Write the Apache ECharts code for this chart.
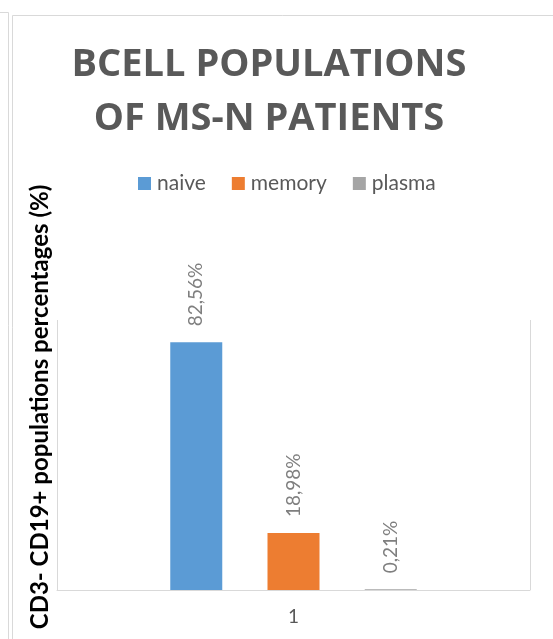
<!DOCTYPE html>
<html>
<head>
<meta charset="utf-8">
<script src="https://cdn.jsdelivr.net/npm/echarts@6/dist/echarts.min.js"></script>
<style>
html,body{margin:0;padding:0;background:#fff;}
#chart{width:553px;height:639px;}
</style>
</head>
<body>
<div id="chart"></div>
<script>
var categories = ['1'];
var seriesNames = ['naive', 'memory', 'plasma'];
var naiveValues = [82.56];
var memoryValues = [18.98];
var plasmaValues = [0.21];
var seriesColors = ['#5B9BD5', '#ED7D31', '#A5A5A5'];
var titleText = 'BCELL POPULATIONS\nOF MS-N PATIENTS';
var yTitle = 'CD3- CD19+ populations percentages (%)';

var chart = echarts.init(document.getElementById('chart'), null, {renderer: 'canvas'});

function fmt(p) {
  return p.value.toFixed(2).replace('.', ',') + '%';
}

var labelStyle = {
  show: true,
  position: 'top',
  rotate: 90,
  align: 'left',
  verticalAlign: 'middle',
  distance: 16,
  formatter: fmt,
  color: '#7F7F7F',
  fontFamily: 'Lato',
  fontSize: 19
};

var valueSets = [naiveValues, memoryValues, plasmaValues];
var series = seriesNames.map(function (name, i) {
  return {
    name: name,
    type: 'bar',
    data: valueSets[i],
    barWidth: 52,
    barGap: '87%',
    itemStyle: {color: seriesColors[i]},
    label: labelStyle
  };
});

chart.setOption({
  backgroundColor: '#ffffff',
  animation: false,
  title: {
    text: titleText,
    left: 269,
    top: 38,
    padding: 0,
    textAlign: 'center',
    textStyle: {
      fontFamily: 'Open Sans',
      fontWeight: 'bold',
      fontSize: 38,
      lineHeight: 54,
      color: '#595959'
    }
  },
  legend: {
    data: seriesNames,
    left: 138,
    top: 173,
    padding: 0,
    icon: 'rect',
    itemWidth: 13,
    itemHeight: 13,
    itemGap: 26,
    textStyle: {
      fontFamily: 'Lato',
      fontSize: 21,
      color: '#595959',
      padding: [0, 0, 0, 1]
    }
  },
  grid: {
    left: 57,
    right: 23,
    top: 320,
    bottom: 49,
    containLabel: false
  },
  xAxis: {
    type: 'category',
    data: categories,
    boundaryGap: true,
    axisLine: {show: true, lineStyle: {color: '#D9D9D9', width: 1}},
    axisTick: {show: false},
    axisLabel: {
      margin: 17,
      fontFamily: 'Lato',
      fontSize: 19,
      color: '#595959'
    },
    splitLine: {show: true, lineStyle: {color: '#D9D9D9', width: 1}}
  },
  yAxis: {
    type: 'value',
    min: 0,
    max: 90,
    interval: 10,
    axisLine: {show: false},
    axisTick: {show: false},
    axisLabel: {show: false},
    splitLine: {show: false}
  },
  graphic: [
    {type: 'line', shape: {x1: 0, y1: 12.5, x2: 8.5, y2: 12.5}, style: {stroke: '#D9D9D9', lineWidth: 1}, silent: true},
    {type: 'line', shape: {x1: 8.5, y1: 12.5, x2: 8.5, y2: 639}, style: {stroke: '#D9D9D9', lineWidth: 1}, silent: true},
    {type: 'line', shape: {x1: 12.5, y1: 15.5, x2: 553, y2: 15.5}, style: {stroke: '#D9D9D9', lineWidth: 1}, silent: true},
    {type: 'line', shape: {x1: 12.5, y1: 15.5, x2: 12.5, y2: 639}, style: {stroke: '#D9D9D9', lineWidth: 1}, silent: true},
    {
      type: 'text',
      x: 40,
      y: 407,
      rotation: Math.PI / 2,
      style: {
        text: yTitle,
        fontFamily: 'Lato',
        fontWeight: 'bold',
        fontSize: 24,
        fill: '#000000',
        align: 'center',
        verticalAlign: 'middle'
      },
      silent: true
    }
  ],
  series: series
});
</script>
</body>
</html>
